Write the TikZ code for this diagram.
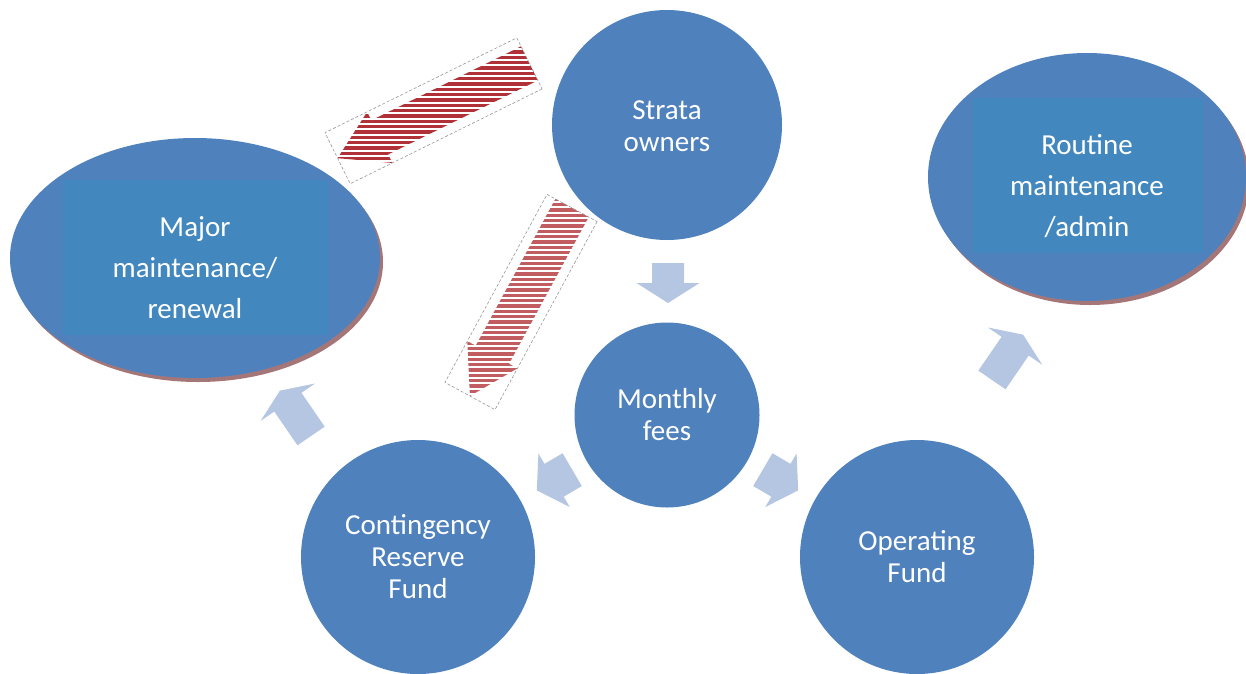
\documentclass[tikz,border=0pt]{standalone}
\usepackage{fontspec}
\setmainfont{Carlito}
\usetikzlibrary{shapes.geometric,calc}

\definecolor{circblue}{RGB}{79,129,189}
\definecolor{innerblue}{RGB}{66,135,190}
\definecolor{softblue}{RGB}{180,198,225}
\definecolor{stripered}{RGB}{172,38,44}
\definecolor{edgeshade}{RGB}{165,118,120}
\definecolor{framegray}{RGB}{150,150,150}

\tikzset{
  bubble/.style={circle, fill=circblue, text=white, align=center, inner sep=0pt,
    font=\fontsize{29}{32}\selectfont},
  oval/.style={ellipse, fill=circblue, inner sep=0pt},
  ovalpanel/.style={rectangle, fill=innerblue, inner sep=0pt},
  ovaltext/.style={text=white, align=center, inner sep=0pt,
    font=\fontsize{29}{41}\selectfont},
  dashframe/.style={draw=framegray, line width=0.6pt, dash pattern=on 3pt off 2pt},
  % block arrow: total length, head length, shaft width, head width
  pics/blockarrow/.style n args={4}{code={
    \fill[softblue] (-#1/2,-#3/2) -- (#1/2-#2,-#3/2) -- (#1/2-#2,-#4/2) -- (#1/2,0)
      -- (#1/2-#2,#4/2) -- (#1/2-#2,#3/2) -- (-#1/2,#3/2) -- cycle;
  }},
}

% striped arrow inside a dashed frame: centre, direction, first stripe, stripe count, opacity
\newcommand{\stripedarrow}[5]{%
  \begin{scope}
    \clip[shift={#1}, rotate=#2] (-107,-19) -- (60,-19) -- (60,-28.5) -- (107,0)
      -- (60,28.5) -- (60,19) -- (-107,19) -- cycle;
    \foreach \k in {0,...,#4}{
      \pgfmathsetmacro\yy{#3+5.333*\k}
      \draw[stripered, line width=3.2pt, opacity=#5] (300,\yy) -- (620,\yy);
    }
  \end{scope}
  \draw[dashframe, shift={#1}, rotate=#2] (-107,-28.5) -- (107,-28.5) -- (107,28.5)
    -- (-107,28.5) -- cycle;
}

\begin{document}
\begin{tikzpicture}[x=1pt, y=-1pt]
\useasboundingbox (0,0) rectangle (1246,673);
\clip (0,0) rectangle (1246,673);

% oval targets with their shaded rims
\coordinate (majorc) at (195,258);
\coordinate (routinec) at (1087,177);
\fill[edgeshade] ($(majorc)+(3,4)$) ellipse [x radius=185, y radius=120];
\fill[edgeshade] ($(routinec)+(3,4)$) ellipse [x radius=159, y radius=124];

\node[oval, minimum width=370pt, minimum height=240pt] (major) at (majorc) {};
\node[ovalpanel, minimum width=265pt, minimum height=155pt] (majorpanel) at (195.5,257.5) {};
\node[ovaltext] (majortext) at (195,268) {Major\\maintenance/\\renewal};

\node[oval, minimum width=318pt, minimum height=248pt] (routine) at (routinec) {};
\node[ovalpanel, minimum width=230pt, minimum height=155pt] (routinepanel) at (1088,175.5) {};
\node[ovaltext] (routinetext) at (1087,186.5) {Routine\\maintenance\\/admin};

% round nodes
\node[bubble, minimum size=230pt] (owners) at (667,125) {};
\node[text=white, align=center, inner sep=0pt, font=\fontsize{29}{32}\selectfont]
  (ownerstext) at (667,126.5) {Strata\\owners};
\node[bubble, minimum size=185pt] (fees) at (667,415) {Monthly\\fees};
\node[bubble, minimum size=234pt] (reserve) at (418,557) {Contingency\\Reserve\\Fund};
\node[bubble, minimum size=234pt] (operating) at (917,557) {Operating\\Fund};

% block arrows of the flow
\pic[rotate=-90] (a1) at (668,283) {blockarrow={40}{20}{32}{63}};
\pic[rotate=210.3] (a2) at (554.5,480) {blockarrow={41}{20}{38}{62}};
\pic[rotate=-30.3] (a3) at (780.5,480) {blockarrow={41}{20}{38}{62}};
\pic[rotate=124.5] (a4) at (295.5,413.3) {blockarrow={55}{14}{33}{66}};
\pic[rotate=55.5] (a5) at (1007.5,357.3) {blockarrow={55}{14}{33}{66}};

% striped special arrows
\stripedarrow{(433.5,110.8)}{206.3}{36}{28}{0.95}
\stripedarrow{(521,302)}{241.5}{194}{41}{0.75}
\end{tikzpicture}
\end{document}
